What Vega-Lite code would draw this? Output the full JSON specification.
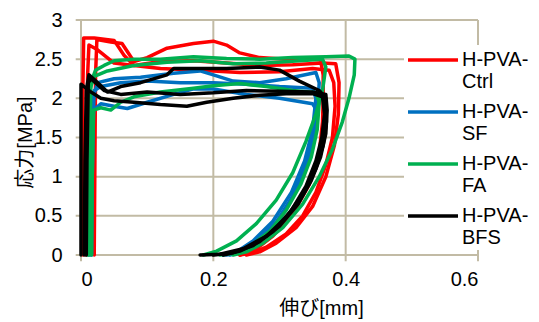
{
"$schema":"https://vega.github.io/schema/vega-lite/v6.json",
"width":397,"height":235,
"autosize":{"type":"none"},
"padding":{"left":81,"top":20,"right":61,"bottom":67},
"config":{"view":{"stroke":null},"font":"Liberation Sans, Noto Sans CJK JP"},
"datasets":{
"gridlines":[
{"g":"v0","x":0,"y":-0.08},{"g":"v0","x":0,"y":3},{"g":"v1","x":0.2,"y":-0.08},{"g":"v1","x":0.2,"y":3},{"g":"v2","x":0.4,"y":-0.08},{"g":"v2","x":0.4,"y":3},{"g":"v3","x":0.6,"y":-0.08},{"g":"v3","x":0.6,"y":3},
{"g":"h0","x":-0.008,"y":0},{"g":"h0","x":0.6,"y":0},{"g":"h1","x":-0.008,"y":0.5},{"g":"h1","x":0.6,"y":0.5},{"g":"h2","x":-0.008,"y":1},{"g":"h2","x":0.6,"y":1},{"g":"h3","x":-0.008,"y":1.5},{"g":"h3","x":0.6,"y":1.5},{"g":"h4","x":-0.008,"y":2},{"g":"h4","x":0.6,"y":2},{"g":"h5","x":-0.008,"y":2.5},{"g":"h5","x":0.6,"y":2.5},{"g":"h6","x":-0.008,"y":3},{"g":"h6","x":0.6,"y":3}
],
"loops":[
{"s":"H-PVA-Ctrl","l":"R1","i":0,"x":0.003,"y":0},{"s":"H-PVA-Ctrl","l":"R1","i":1,"x":0.002,"y":1.0},{"s":"H-PVA-Ctrl","l":"R1","i":2,"x":0.003,"y":2.2},{"s":"H-PVA-Ctrl","l":"R1","i":3,"x":0.004,"y":2.77},{"s":"H-PVA-Ctrl","l":"R1","i":4,"x":0.02,"y":2.77},{"s":"H-PVA-Ctrl","l":"R1","i":5,"x":0.05,"y":2.74},{"s":"H-PVA-Ctrl","l":"R1","i":6,"x":0.065,"y":2.55},{"s":"H-PVA-Ctrl","l":"R1","i":7,"x":0.08,"y":2.42},{"s":"H-PVA-Ctrl","l":"R1","i":8,"x":0.12,"y":2.38},{"s":"H-PVA-Ctrl","l":"R1","i":9,"x":0.18,"y":2.36},{"s":"H-PVA-Ctrl","l":"R1","i":10,"x":0.24,"y":2.33},{"s":"H-PVA-Ctrl","l":"R1","i":11,"x":0.3,"y":2.34},{"s":"H-PVA-Ctrl","l":"R1","i":12,"x":0.35,"y":2.38},{"s":"H-PVA-Ctrl","l":"R1","i":13,"x":0.375,"y":2.36},{"s":"H-PVA-Ctrl","l":"R1","i":14,"x":0.382,"y":2.2},{"s":"H-PVA-Ctrl","l":"R1","i":15,"x":0.384,"y":1.9},{"s":"H-PVA-Ctrl","l":"R1","i":16,"x":0.38,"y":1.5},{"s":"H-PVA-Ctrl","l":"R1","i":17,"x":0.37,"y":1.15},{"s":"H-PVA-Ctrl","l":"R1","i":18,"x":0.355,"y":0.8},{"s":"H-PVA-Ctrl","l":"R1","i":19,"x":0.335,"y":0.5},{"s":"H-PVA-Ctrl","l":"R1","i":20,"x":0.31,"y":0.27},{"s":"H-PVA-Ctrl","l":"R1","i":21,"x":0.28,"y":0.1},{"s":"H-PVA-Ctrl","l":"R1","i":22,"x":0.26,"y":0.03},{"s":"H-PVA-Ctrl","l":"R1","i":23,"x":0.24,"y":0},
{"s":"H-PVA-Ctrl","l":"R2","i":0,"x":0.008,"y":0},{"s":"H-PVA-Ctrl","l":"R2","i":1,"x":0.009,"y":1.2},{"s":"H-PVA-Ctrl","l":"R2","i":2,"x":0.01,"y":2.3},{"s":"H-PVA-Ctrl","l":"R2","i":3,"x":0.012,"y":2.68},{"s":"H-PVA-Ctrl","l":"R2","i":4,"x":0.025,"y":2.62},{"s":"H-PVA-Ctrl","l":"R2","i":5,"x":0.05,"y":2.45},{"s":"H-PVA-Ctrl","l":"R2","i":6,"x":0.08,"y":2.42},{"s":"H-PVA-Ctrl","l":"R2","i":7,"x":0.12,"y":2.47},{"s":"H-PVA-Ctrl","l":"R2","i":8,"x":0.17,"y":2.48},{"s":"H-PVA-Ctrl","l":"R2","i":9,"x":0.22,"y":2.45},{"s":"H-PVA-Ctrl","l":"R2","i":10,"x":0.27,"y":2.42},{"s":"H-PVA-Ctrl","l":"R2","i":11,"x":0.32,"y":2.43},{"s":"H-PVA-Ctrl","l":"R2","i":12,"x":0.365,"y":2.45},{"s":"H-PVA-Ctrl","l":"R2","i":13,"x":0.385,"y":2.44},{"s":"H-PVA-Ctrl","l":"R2","i":14,"x":0.39,"y":2.2},{"s":"H-PVA-Ctrl","l":"R2","i":15,"x":0.389,"y":1.8},{"s":"H-PVA-Ctrl","l":"R2","i":16,"x":0.383,"y":1.4},{"s":"H-PVA-Ctrl","l":"R2","i":17,"x":0.37,"y":1.0},{"s":"H-PVA-Ctrl","l":"R2","i":18,"x":0.35,"y":0.62},{"s":"H-PVA-Ctrl","l":"R2","i":19,"x":0.325,"y":0.35},{"s":"H-PVA-Ctrl","l":"R2","i":20,"x":0.295,"y":0.15},{"s":"H-PVA-Ctrl","l":"R2","i":21,"x":0.27,"y":0.04},{"s":"H-PVA-Ctrl","l":"R2","i":22,"x":0.25,"y":0},
{"s":"H-PVA-Ctrl","l":"R3","i":0,"x":0.02,"y":0},{"s":"H-PVA-Ctrl","l":"R3","i":1,"x":0.021,"y":1.2},{"s":"H-PVA-Ctrl","l":"R3","i":2,"x":0.022,"y":2.3},{"s":"H-PVA-Ctrl","l":"R3","i":3,"x":0.024,"y":2.75},{"s":"H-PVA-Ctrl","l":"R3","i":4,"x":0.045,"y":2.72},{"s":"H-PVA-Ctrl","l":"R3","i":5,"x":0.062,"y":2.7},{"s":"H-PVA-Ctrl","l":"R3","i":6,"x":0.08,"y":2.47},{"s":"H-PVA-Ctrl","l":"R3","i":7,"x":0.1,"y":2.52},{"s":"H-PVA-Ctrl","l":"R3","i":8,"x":0.13,"y":2.64},{"s":"H-PVA-Ctrl","l":"R3","i":9,"x":0.17,"y":2.7},{"s":"H-PVA-Ctrl","l":"R3","i":10,"x":0.2,"y":2.73},{"s":"H-PVA-Ctrl","l":"R3","i":11,"x":0.22,"y":2.68},{"s":"H-PVA-Ctrl","l":"R3","i":12,"x":0.24,"y":2.58},{"s":"H-PVA-Ctrl","l":"R3","i":13,"x":0.27,"y":2.52},{"s":"H-PVA-Ctrl","l":"R3","i":14,"x":0.31,"y":2.5},{"s":"H-PVA-Ctrl","l":"R3","i":15,"x":0.35,"y":2.5},{"s":"H-PVA-Ctrl","l":"R3","i":16,"x":0.362,"y":2.49},{"s":"H-PVA-Ctrl","l":"R3","i":17,"x":0.366,"y":2.3},{"s":"H-PVA-Ctrl","l":"R3","i":18,"x":0.366,"y":2.0},{"s":"H-PVA-Ctrl","l":"R3","i":19,"x":0.365,"y":1.7},{"s":"H-PVA-Ctrl","l":"R3","i":20,"x":0.36,"y":1.3},{"s":"H-PVA-Ctrl","l":"R3","i":21,"x":0.345,"y":0.9},{"s":"H-PVA-Ctrl","l":"R3","i":22,"x":0.32,"y":0.52},{"s":"H-PVA-Ctrl","l":"R3","i":23,"x":0.29,"y":0.24},{"s":"H-PVA-Ctrl","l":"R3","i":24,"x":0.265,"y":0.08},{"s":"H-PVA-Ctrl","l":"R3","i":25,"x":0.24,"y":0},
{"s":"H-PVA-SF","l":"B1","i":0,"x":0.012,"y":0},{"s":"H-PVA-SF","l":"B1","i":1,"x":0.014,"y":1.0},{"s":"H-PVA-SF","l":"B1","i":2,"x":0.018,"y":2.0},{"s":"H-PVA-SF","l":"B1","i":3,"x":0.025,"y":2.2},{"s":"H-PVA-SF","l":"B1","i":4,"x":0.05,"y":2.25},{"s":"H-PVA-SF","l":"B1","i":5,"x":0.09,"y":2.27},{"s":"H-PVA-SF","l":"B1","i":6,"x":0.14,"y":2.32},{"s":"H-PVA-SF","l":"B1","i":7,"x":0.18,"y":2.35},{"s":"H-PVA-SF","l":"B1","i":8,"x":0.2,"y":2.3},{"s":"H-PVA-SF","l":"B1","i":9,"x":0.23,"y":2.22},{"s":"H-PVA-SF","l":"B1","i":10,"x":0.27,"y":2.2},{"s":"H-PVA-SF","l":"B1","i":11,"x":0.31,"y":2.25},{"s":"H-PVA-SF","l":"B1","i":12,"x":0.355,"y":2.33},{"s":"H-PVA-SF","l":"B1","i":13,"x":0.36,"y":2.2},{"s":"H-PVA-SF","l":"B1","i":14,"x":0.358,"y":1.9},{"s":"H-PVA-SF","l":"B1","i":15,"x":0.352,"y":1.55},{"s":"H-PVA-SF","l":"B1","i":16,"x":0.34,"y":1.15},{"s":"H-PVA-SF","l":"B1","i":17,"x":0.32,"y":0.75},{"s":"H-PVA-SF","l":"B1","i":18,"x":0.295,"y":0.42},{"s":"H-PVA-SF","l":"B1","i":19,"x":0.265,"y":0.17},{"s":"H-PVA-SF","l":"B1","i":20,"x":0.24,"y":0.04},{"s":"H-PVA-SF","l":"B1","i":21,"x":0.22,"y":0},
{"s":"H-PVA-SF","l":"B2","i":0,"x":0.016,"y":0},{"s":"H-PVA-SF","l":"B2","i":1,"x":0.017,"y":1.0},{"s":"H-PVA-SF","l":"B2","i":2,"x":0.019,"y":1.85},{"s":"H-PVA-SF","l":"B2","i":3,"x":0.03,"y":1.93},{"s":"H-PVA-SF","l":"B2","i":4,"x":0.05,"y":1.9},{"s":"H-PVA-SF","l":"B2","i":5,"x":0.07,"y":1.87},{"s":"H-PVA-SF","l":"B2","i":6,"x":0.1,"y":1.95},{"s":"H-PVA-SF","l":"B2","i":7,"x":0.14,"y":2.05},{"s":"H-PVA-SF","l":"B2","i":8,"x":0.17,"y":2.12},{"s":"H-PVA-SF","l":"B2","i":9,"x":0.2,"y":2.12},{"s":"H-PVA-SF","l":"B2","i":10,"x":0.25,"y":2.05},{"s":"H-PVA-SF","l":"B2","i":11,"x":0.3,"y":2.0},{"s":"H-PVA-SF","l":"B2","i":12,"x":0.35,"y":1.93},{"s":"H-PVA-SF","l":"B2","i":13,"x":0.356,"y":1.85},{"s":"H-PVA-SF","l":"B2","i":14,"x":0.352,"y":1.55},{"s":"H-PVA-SF","l":"B2","i":15,"x":0.342,"y":1.2},{"s":"H-PVA-SF","l":"B2","i":16,"x":0.325,"y":0.82},{"s":"H-PVA-SF","l":"B2","i":17,"x":0.3,"y":0.45},{"s":"H-PVA-SF","l":"B2","i":18,"x":0.27,"y":0.2},{"s":"H-PVA-SF","l":"B2","i":19,"x":0.245,"y":0.05},{"s":"H-PVA-SF","l":"B2","i":20,"x":0.225,"y":0},
{"s":"H-PVA-SF","l":"B3","i":0,"x":0.014,"y":0},{"s":"H-PVA-SF","l":"B3","i":1,"x":0.016,"y":1.2},{"s":"H-PVA-SF","l":"B3","i":2,"x":0.02,"y":2.1},{"s":"H-PVA-SF","l":"B3","i":3,"x":0.03,"y":2.15},{"s":"H-PVA-SF","l":"B3","i":4,"x":0.06,"y":2.2},{"s":"H-PVA-SF","l":"B3","i":5,"x":0.1,"y":2.22},{"s":"H-PVA-SF","l":"B3","i":6,"x":0.15,"y":2.2},{"s":"H-PVA-SF","l":"B3","i":7,"x":0.2,"y":2.2},{"s":"H-PVA-SF","l":"B3","i":8,"x":0.25,"y":2.18},{"s":"H-PVA-SF","l":"B3","i":9,"x":0.3,"y":2.15},{"s":"H-PVA-SF","l":"B3","i":10,"x":0.35,"y":2.13},{"s":"H-PVA-SF","l":"B3","i":11,"x":0.355,"y":2.0},{"s":"H-PVA-SF","l":"B3","i":12,"x":0.35,"y":1.6},{"s":"H-PVA-SF","l":"B3","i":13,"x":0.338,"y":1.2},{"s":"H-PVA-SF","l":"B3","i":14,"x":0.318,"y":0.8},{"s":"H-PVA-SF","l":"B3","i":15,"x":0.29,"y":0.43},{"s":"H-PVA-SF","l":"B3","i":16,"x":0.26,"y":0.18},{"s":"H-PVA-SF","l":"B3","i":17,"x":0.235,"y":0.04},{"s":"H-PVA-SF","l":"B3","i":18,"x":0.215,"y":0},
{"s":"H-PVA-FA","l":"G1","i":0,"x":0.012,"y":0},{"s":"H-PVA-FA","l":"G1","i":1,"x":0.013,"y":1.2},{"s":"H-PVA-FA","l":"G1","i":2,"x":0.015,"y":2.2},{"s":"H-PVA-FA","l":"G1","i":3,"x":0.022,"y":2.36},{"s":"H-PVA-FA","l":"G1","i":4,"x":0.035,"y":2.42},{"s":"H-PVA-FA","l":"G1","i":5,"x":0.05,"y":2.48},{"s":"H-PVA-FA","l":"G1","i":6,"x":0.08,"y":2.5},{"s":"H-PVA-FA","l":"G1","i":7,"x":0.12,"y":2.5},{"s":"H-PVA-FA","l":"G1","i":8,"x":0.17,"y":2.53},{"s":"H-PVA-FA","l":"G1","i":9,"x":0.22,"y":2.51},{"s":"H-PVA-FA","l":"G1","i":10,"x":0.27,"y":2.5},{"s":"H-PVA-FA","l":"G1","i":11,"x":0.32,"y":2.52},{"s":"H-PVA-FA","l":"G1","i":12,"x":0.37,"y":2.53},{"s":"H-PVA-FA","l":"G1","i":13,"x":0.405,"y":2.54},{"s":"H-PVA-FA","l":"G1","i":14,"x":0.414,"y":2.5},{"s":"H-PVA-FA","l":"G1","i":15,"x":0.413,"y":2.3},{"s":"H-PVA-FA","l":"G1","i":16,"x":0.405,"y":2.0},{"s":"H-PVA-FA","l":"G1","i":17,"x":0.395,"y":1.7},{"s":"H-PVA-FA","l":"G1","i":18,"x":0.38,"y":1.35},{"s":"H-PVA-FA","l":"G1","i":19,"x":0.36,"y":1.0},{"s":"H-PVA-FA","l":"G1","i":20,"x":0.335,"y":0.65},{"s":"H-PVA-FA","l":"G1","i":21,"x":0.305,"y":0.35},{"s":"H-PVA-FA","l":"G1","i":22,"x":0.275,"y":0.15},{"s":"H-PVA-FA","l":"G1","i":23,"x":0.25,"y":0.04},{"s":"H-PVA-FA","l":"G1","i":24,"x":0.23,"y":0},
{"s":"H-PVA-FA","l":"G2","i":0,"x":0.01,"y":0},{"s":"H-PVA-FA","l":"G2","i":1,"x":0.011,"y":1.2},{"s":"H-PVA-FA","l":"G2","i":2,"x":0.013,"y":2.1},{"s":"H-PVA-FA","l":"G2","i":3,"x":0.02,"y":2.28},{"s":"H-PVA-FA","l":"G2","i":4,"x":0.04,"y":2.35},{"s":"H-PVA-FA","l":"G2","i":5,"x":0.08,"y":2.42},{"s":"H-PVA-FA","l":"G2","i":6,"x":0.13,"y":2.46},{"s":"H-PVA-FA","l":"G2","i":7,"x":0.18,"y":2.48},{"s":"H-PVA-FA","l":"G2","i":8,"x":0.23,"y":2.44},{"s":"H-PVA-FA","l":"G2","i":9,"x":0.28,"y":2.45},{"s":"H-PVA-FA","l":"G2","i":10,"x":0.33,"y":2.48},{"s":"H-PVA-FA","l":"G2","i":11,"x":0.365,"y":2.5},{"s":"H-PVA-FA","l":"G2","i":12,"x":0.37,"y":2.4},{"s":"H-PVA-FA","l":"G2","i":13,"x":0.365,"y":2.1},{"s":"H-PVA-FA","l":"G2","i":14,"x":0.355,"y":1.8},{"s":"H-PVA-FA","l":"G2","i":15,"x":0.34,"y":1.45},{"s":"H-PVA-FA","l":"G2","i":16,"x":0.32,"y":1.05},{"s":"H-PVA-FA","l":"G2","i":17,"x":0.295,"y":0.7},{"s":"H-PVA-FA","l":"G2","i":18,"x":0.265,"y":0.4},{"s":"H-PVA-FA","l":"G2","i":19,"x":0.235,"y":0.18},{"s":"H-PVA-FA","l":"G2","i":20,"x":0.205,"y":0.05},{"s":"H-PVA-FA","l":"G2","i":21,"x":0.185,"y":0},
{"s":"H-PVA-FA","l":"G3","i":0,"x":0.016,"y":0},{"s":"H-PVA-FA","l":"G3","i":1,"x":0.017,"y":1.0},{"s":"H-PVA-FA","l":"G3","i":2,"x":0.019,"y":1.85},{"s":"H-PVA-FA","l":"G3","i":3,"x":0.03,"y":1.88},{"s":"H-PVA-FA","l":"G3","i":4,"x":0.045,"y":1.85},{"s":"H-PVA-FA","l":"G3","i":5,"x":0.06,"y":1.95},{"s":"H-PVA-FA","l":"G3","i":6,"x":0.08,"y":2.02},{"s":"H-PVA-FA","l":"G3","i":7,"x":0.12,"y":2.08},{"s":"H-PVA-FA","l":"G3","i":8,"x":0.17,"y":2.13},{"s":"H-PVA-FA","l":"G3","i":9,"x":0.2,"y":2.16},{"s":"H-PVA-FA","l":"G3","i":10,"x":0.24,"y":2.19},{"s":"H-PVA-FA","l":"G3","i":11,"x":0.28,"y":2.15},{"s":"H-PVA-FA","l":"G3","i":12,"x":0.32,"y":2.1},{"s":"H-PVA-FA","l":"G3","i":13,"x":0.355,"y":2.07},{"s":"H-PVA-FA","l":"G3","i":14,"x":0.36,"y":1.95},{"s":"H-PVA-FA","l":"G3","i":15,"x":0.357,"y":1.6},{"s":"H-PVA-FA","l":"G3","i":16,"x":0.348,"y":1.25},{"s":"H-PVA-FA","l":"G3","i":17,"x":0.332,"y":0.9},{"s":"H-PVA-FA","l":"G3","i":18,"x":0.31,"y":0.57},{"s":"H-PVA-FA","l":"G3","i":19,"x":0.285,"y":0.3},{"s":"H-PVA-FA","l":"G3","i":20,"x":0.255,"y":0.11},{"s":"H-PVA-FA","l":"G3","i":21,"x":0.23,"y":0.02},{"s":"H-PVA-FA","l":"G3","i":22,"x":0.21,"y":0},
{"s":"H-PVA-BFS","l":"K1","i":0,"x":0.0,"y":0},{"s":"H-PVA-BFS","l":"K1","i":1,"x":0.0,"y":2.18},{"s":"H-PVA-BFS","l":"K1","i":2,"x":0.015,"y":2.08},{"s":"H-PVA-BFS","l":"K1","i":3,"x":0.03,"y":2.0},{"s":"H-PVA-BFS","l":"K1","i":4,"x":0.05,"y":1.97},{"s":"H-PVA-BFS","l":"K1","i":5,"x":0.08,"y":1.95},{"s":"H-PVA-BFS","l":"K1","i":6,"x":0.12,"y":1.92},{"s":"H-PVA-BFS","l":"K1","i":7,"x":0.16,"y":1.9},{"s":"H-PVA-BFS","l":"K1","i":8,"x":0.19,"y":1.95},{"s":"H-PVA-BFS","l":"K1","i":9,"x":0.23,"y":2.0},{"s":"H-PVA-BFS","l":"K1","i":10,"x":0.27,"y":2.04},{"s":"H-PVA-BFS","l":"K1","i":11,"x":0.31,"y":2.06},{"s":"H-PVA-BFS","l":"K1","i":12,"x":0.35,"y":2.06},{"s":"H-PVA-BFS","l":"K1","i":13,"x":0.365,"y":2.02},{"s":"H-PVA-BFS","l":"K1","i":14,"x":0.368,"y":1.8},{"s":"H-PVA-BFS","l":"K1","i":15,"x":0.364,"y":1.5},{"s":"H-PVA-BFS","l":"K1","i":16,"x":0.355,"y":1.2},{"s":"H-PVA-BFS","l":"K1","i":17,"x":0.34,"y":0.88},{"s":"H-PVA-BFS","l":"K1","i":18,"x":0.318,"y":0.57},{"s":"H-PVA-BFS","l":"K1","i":19,"x":0.29,"y":0.3},{"s":"H-PVA-BFS","l":"K1","i":20,"x":0.26,"y":0.12},{"s":"H-PVA-BFS","l":"K1","i":21,"x":0.23,"y":0.03},{"s":"H-PVA-BFS","l":"K1","i":22,"x":0.2,"y":0},
{"s":"H-PVA-BFS","l":"K2","i":0,"x":0.005,"y":0},{"s":"H-PVA-BFS","l":"K2","i":1,"x":0.006,"y":1.2},{"s":"H-PVA-BFS","l":"K2","i":2,"x":0.008,"y":2.1},{"s":"H-PVA-BFS","l":"K2","i":3,"x":0.012,"y":2.3},{"s":"H-PVA-BFS","l":"K2","i":4,"x":0.025,"y":2.2},{"s":"H-PVA-BFS","l":"K2","i":5,"x":0.04,"y":2.08},{"s":"H-PVA-BFS","l":"K2","i":6,"x":0.06,"y":2.15},{"s":"H-PVA-BFS","l":"K2","i":7,"x":0.09,"y":2.2},{"s":"H-PVA-BFS","l":"K2","i":8,"x":0.13,"y":2.3},{"s":"H-PVA-BFS","l":"K2","i":9,"x":0.14,"y":2.38},{"s":"H-PVA-BFS","l":"K2","i":10,"x":0.17,"y":2.38},{"s":"H-PVA-BFS","l":"K2","i":11,"x":0.22,"y":2.38},{"s":"H-PVA-BFS","l":"K2","i":12,"x":0.27,"y":2.4},{"s":"H-PVA-BFS","l":"K2","i":13,"x":0.3,"y":2.36},{"s":"H-PVA-BFS","l":"K2","i":14,"x":0.33,"y":2.22},{"s":"H-PVA-BFS","l":"K2","i":15,"x":0.36,"y":2.1},{"s":"H-PVA-BFS","l":"K2","i":16,"x":0.37,"y":2.0},{"s":"H-PVA-BFS","l":"K2","i":17,"x":0.371,"y":1.7},{"s":"H-PVA-BFS","l":"K2","i":18,"x":0.366,"y":1.4},{"s":"H-PVA-BFS","l":"K2","i":19,"x":0.355,"y":1.1},{"s":"H-PVA-BFS","l":"K2","i":20,"x":0.336,"y":0.78},{"s":"H-PVA-BFS","l":"K2","i":21,"x":0.31,"y":0.48},{"s":"H-PVA-BFS","l":"K2","i":22,"x":0.28,"y":0.24},{"s":"H-PVA-BFS","l":"K2","i":23,"x":0.245,"y":0.08},{"s":"H-PVA-BFS","l":"K2","i":24,"x":0.21,"y":0.01},{"s":"H-PVA-BFS","l":"K2","i":25,"x":0.18,"y":0},
{"s":"H-PVA-BFS","l":"K3","i":0,"x":0.008,"y":0},{"s":"H-PVA-BFS","l":"K3","i":1,"x":0.009,"y":1.2},{"s":"H-PVA-BFS","l":"K3","i":2,"x":0.011,"y":2.2},{"s":"H-PVA-BFS","l":"K3","i":3,"x":0.015,"y":2.25},{"s":"H-PVA-BFS","l":"K3","i":4,"x":0.035,"y":2.1},{"s":"H-PVA-BFS","l":"K3","i":5,"x":0.06,"y":2.05},{"s":"H-PVA-BFS","l":"K3","i":6,"x":0.1,"y":2.08},{"s":"H-PVA-BFS","l":"K3","i":7,"x":0.15,"y":2.05},{"s":"H-PVA-BFS","l":"K3","i":8,"x":0.2,"y":2.07},{"s":"H-PVA-BFS","l":"K3","i":9,"x":0.25,"y":2.1},{"s":"H-PVA-BFS","l":"K3","i":10,"x":0.3,"y":2.09},{"s":"H-PVA-BFS","l":"K3","i":11,"x":0.35,"y":2.08},{"s":"H-PVA-BFS","l":"K3","i":12,"x":0.37,"y":2.05},{"s":"H-PVA-BFS","l":"K3","i":13,"x":0.372,"y":1.85},{"s":"H-PVA-BFS","l":"K3","i":14,"x":0.37,"y":1.55},{"s":"H-PVA-BFS","l":"K3","i":15,"x":0.362,"y":1.25},{"s":"H-PVA-BFS","l":"K3","i":16,"x":0.348,"y":0.95},{"s":"H-PVA-BFS","l":"K3","i":17,"x":0.328,"y":0.65},{"s":"H-PVA-BFS","l":"K3","i":18,"x":0.3,"y":0.37},{"s":"H-PVA-BFS","l":"K3","i":19,"x":0.27,"y":0.17},{"s":"H-PVA-BFS","l":"K3","i":20,"x":0.24,"y":0.05},{"s":"H-PVA-BFS","l":"K3","i":21,"x":0.215,"y":0}
]},
"layer":[
{"data":{"name":"gridlines"},
 "mark":{"type":"line","color":"#C2BBA5","strokeWidth":2,"clip":false},
 "encoding":{
 "x":{"field":"x","type":"quantitative","scale":{"domain":[0,0.6],"nice":false,"zero":false},
  "axis":{"values":[0,0.2,0.4,0.6],"format":"~g","title":"伸び[mm]","domain":false,"ticks":false,"grid":false,"labelFontSize":20,"labelColor":"#000000","labelPadding":14,"labelOverlap":false,"titleFontSize":20,"titleFontWeight":"normal","titleColor":"#000000","titleX":240,"titleY":53,"titleBaseline":"middle"}},
 "y":{"field":"y","type":"quantitative","scale":{"domain":[0,3],"nice":false},
  "axis":{"values":[0,0.5,1,1.5,2,2.5,3],"format":"~g","title":"応力[MPa]","domain":false,"ticks":false,"grid":false,"labelFontSize":20,"labelColor":"#000000","labelPadding":19,"labelOverlap":false,"titleFontSize":20,"titleFontWeight":"normal","titleColor":"#000000","titleX":-56,"titleY":122,"titleBaseline":"middle"}},
 "detail":{"field":"g","type":"nominal"}}},
{"data":{"name":"loops"},
 "mark":{"type":"line","strokeWidth":3.5,"strokeJoin":"round","strokeCap":"round","clip":false},
 "encoding":{
 "x":{"field":"x","type":"quantitative","scale":{"domain":[0,0.6],"nice":false,"zero":false},
  "axis":{"values":[0,0.2,0.4,0.6],"format":"~g","title":"伸び[mm]","domain":false,"ticks":false,"grid":false,"labelFontSize":20,"labelColor":"#000000","labelPadding":14,"labelOverlap":false,"titleFontSize":20,"titleFontWeight":"normal","titleColor":"#000000","titleX":240,"titleY":53,"titleBaseline":"middle"}},
 "y":{"field":"y","type":"quantitative","scale":{"domain":[0,3],"nice":false},
  "axis":{"values":[0,0.5,1,1.5,2,2.5,3],"format":"~g","title":"応力[MPa]","domain":false,"ticks":false,"grid":false,"labelFontSize":20,"labelColor":"#000000","labelPadding":19,"labelOverlap":false,"titleFontSize":20,"titleFontWeight":"normal","titleColor":"#000000","titleX":-56,"titleY":122,"titleBaseline":"middle"}},
 "color":{"field":"s","type":"nominal","sort":["H-PVA-Ctrl","H-PVA-SF","H-PVA-FA","H-PVA-BFS"],
  "scale":{"domain":["H-PVA-Ctrl","H-PVA-SF","H-PVA-FA","H-PVA-BFS"],"range":["#FF0000","#0070C0","#00B050","#000000"]},
  "legend":{"title":null,"orient":"none","legendX":323,"legendY":25,"direction":"vertical","symbolType":"stroke","symbolSize":2500,"symbolStrokeWidth":3.5,"labelFontSize":20,"labelColor":"#000000","labelLimit":300,"labelOffset":2,"labelBaseline":"middle","labelLineHeight":25,"labelExpr":"[slice(datum.label,0,6), slice(datum.label,6)]","rowPadding":7,"padding":2,"fillColor":"#ffffff","strokeColor":null,
   "encode":{"symbols":{"update":{"y":{"value":13}}},"labels":{"update":{"y":{"value":13}}}}}},
 "detail":{"field":"l","type":"nominal"},
 "order":{"field":"i","type":"quantitative"}}}
]
}
